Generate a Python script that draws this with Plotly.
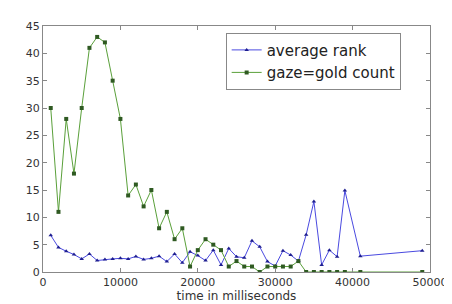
import plotly.graph_objects as go

times = [1000, 2000, 3000, 4000, 5000, 6000, 7000, 8000, 9000, 10000,
         11000, 12000, 13000, 14000, 15000, 16000, 17000, 18000, 19000, 20000,
         21000, 22000, 23000, 24000, 25000, 26000, 27000, 28000, 29000, 30000,
         31000, 32000, 33000, 34000, 35000, 36000, 37000, 38000, 39000, 41000, 49000]

average_rank = [6.7, 4.5, 3.8, 3.2, 2.4, 3.3, 2.1, 2.3, 2.4, 2.5,
                2.4, 2.85, 2.3, 2.5, 2.9, 1.9, 3.3, 1.7, 3.7, 3.0,
                2.1, 4.0, 1.3, 4.3, 2.8, 2.6, 5.7, 4.6, 1.9, 1.1,
                3.9, 3.1, 2.0, 6.8, 12.9, 1.3, 4.0, 2.8, 14.9, 2.9, 3.9]

gold_count = [30, 11, 28, 18, 30, 41, 43, 42, 35, 28,
              14, 16, 12, 15, 8, 11, 6, 8, 1, 4,
              6, 5, 4, 1, 2, 1, 1, 0, 1, 1,
              1, 1, 2, 0, 0, 0, 0, 0, 0, 0, 0]

x_ticks = [0, 10000, 20000, 30000, 40000, 50000]
y_ticks = [0, 5, 10, 15, 20, 25, 30, 35, 40, 45]

fig = go.Figure()
fig.add_trace(go.Scatter(
    x=times, y=average_rank, mode="lines+markers", name="average rank",
    line=dict(color="#4a4ae0", width=1),
    marker=dict(symbol="triangle-up", size=4, color="#1e1e90"),
))
fig.add_trace(go.Scatter(
    x=times, y=gold_count, mode="lines+markers", name="gaze=gold count",
    line=dict(color="#5aa03a", width=1),
    marker=dict(symbol="square", size=4, color="#2f5a22"),
))

axis_common = dict(
    showgrid=False, zeroline=False, showline=True, linecolor="#888888", linewidth=1,
    mirror="ticks", ticks="inside", ticklen=4, tickcolor="#888888",
    tickfont=dict(family="DejaVu Sans", size=11, color="#333333"),
)

fig.update_layout(
    width=452, height=304,
    margin=dict(l=35, r=19, t=12, b=28),
    paper_bgcolor="white", plot_bgcolor="white",
    font=dict(family="DejaVu Sans", color="#333333"),
    xaxis=dict(range=[0, 50000], tickvals=x_ticks, ticktext=[str(v) for v in x_ticks],
               title=dict(text="time in milliseconds", font=dict(size=12), standoff=2),
               **axis_common),
    yaxis=dict(range=[0, 45], tickvals=y_ticks, ticktext=[str(v) for v in y_ticks],
               **axis_common),
    legend=dict(x=0.472, y=0.973, xanchor="left", yanchor="top",
                bordercolor="#888888", borderwidth=1, bgcolor="white",
                font=dict(family="DejaVu Sans", size=15, color="#222222"),
                tracegroupgap=0, itemwidth=30),
    showlegend=True,
)

fig.write_html("out.html")
